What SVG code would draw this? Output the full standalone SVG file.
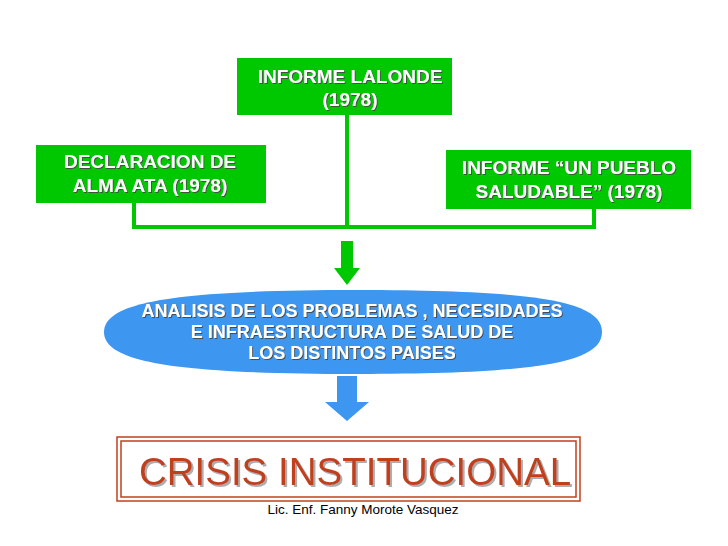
<svg xmlns="http://www.w3.org/2000/svg" width="728" height="546" viewBox="0 0 728 546">
<defs><filter id="ds" x="-5%" y="-20%" width="110%" height="140%"><feDropShadow dx="1" dy="1" stdDeviation="0.3" flood-color="#444" flood-opacity="0.9"/></filter>
<filter id="ds2" x="-5%" y="-20%" width="110%" height="140%"><feDropShadow dx="2" dy="2" stdDeviation="0.5" flood-color="#999" flood-opacity="0.8"/></filter></defs>
<style>
.g{fill:#00c800}
.t{font-family:"Liberation Sans",Arial,sans-serif;font-weight:bold;font-size:19px;fill:#fff;text-anchor:middle;filter:url(#ds)}
.e{font-size:18px}
.c{stroke:#00c800;stroke-width:4;fill:none}
</style>
<rect width="728" height="546" fill="#fff"/>
<g id="lalonde"><rect class="g" x="237" y="58" width="215" height="57"/>
<text class="t" x="350" y="83">INFORME LALONDE</text>
<text class="t" x="350" y="106">(1978)</text></g>
<g id="almaata"><rect class="g" x="36" y="145" width="230" height="58"/>
<text class="t" x="150" y="168">DECLARACION DE</text>
<text class="t" x="150" y="192">ALMA ATA (1978)</text></g>
<g id="pueblo"><rect class="g" x="446" y="150" width="245" height="59"/>
<text class="t" x="569" y="174">INFORME “UN PUEBLO</text>
<text class="t" x="569" y="198">SALUDABLE” (1978)</text></g>
<g id="connectors">
<path class="c" d="M347 115V227M134 203V227H594V209"/>
<polygon class="g" points="341,241 353,241 353,268 360,268 347,285 334,268 341,268"/>
<polygon fill="#3d96f0" points="337,376 357,376 357,402 369,402 347,421 325,402 337,402"/>
</g>
<g id="analisis"><path fill="#3d96f0" d="M357 290C540 290 602 302 602 332C602 362 540 374 357 374C174 374 104 362 104 332C104 302 174 290 357 290Z"/>
<text class="t e" x="352" y="317">ANALISIS DE LOS PROBLEMAS , NECESIDADES</text>
<text class="t e" x="352" y="338">E INFRAESTRUCTURA DE SALUD DE</text>
<text class="t e" x="352" y="359">LOS DISTINTOS PAISES</text></g>
<g id="crisis"><rect x="117" y="437" width="463" height="64" fill="#fff" stroke="#c0401c" stroke-width="1.5"/>
<rect x="121" y="441" width="455" height="56" fill="none" stroke="#c0401c" stroke-width="1.5"/>
<text x="355" y="485" font-family="Liberation Sans,Arial,sans-serif" font-size="38.5" fill="#c0401c" text-anchor="middle" filter="url(#ds2)">CRISIS INSTITUCIONAL</text></g>
<text x="363" y="514" font-family="Liberation Sans,Arial,sans-serif" font-size="13.5" fill="#000" text-anchor="middle">Lic. Enf. Fanny Morote Vasquez</text>
</svg>
